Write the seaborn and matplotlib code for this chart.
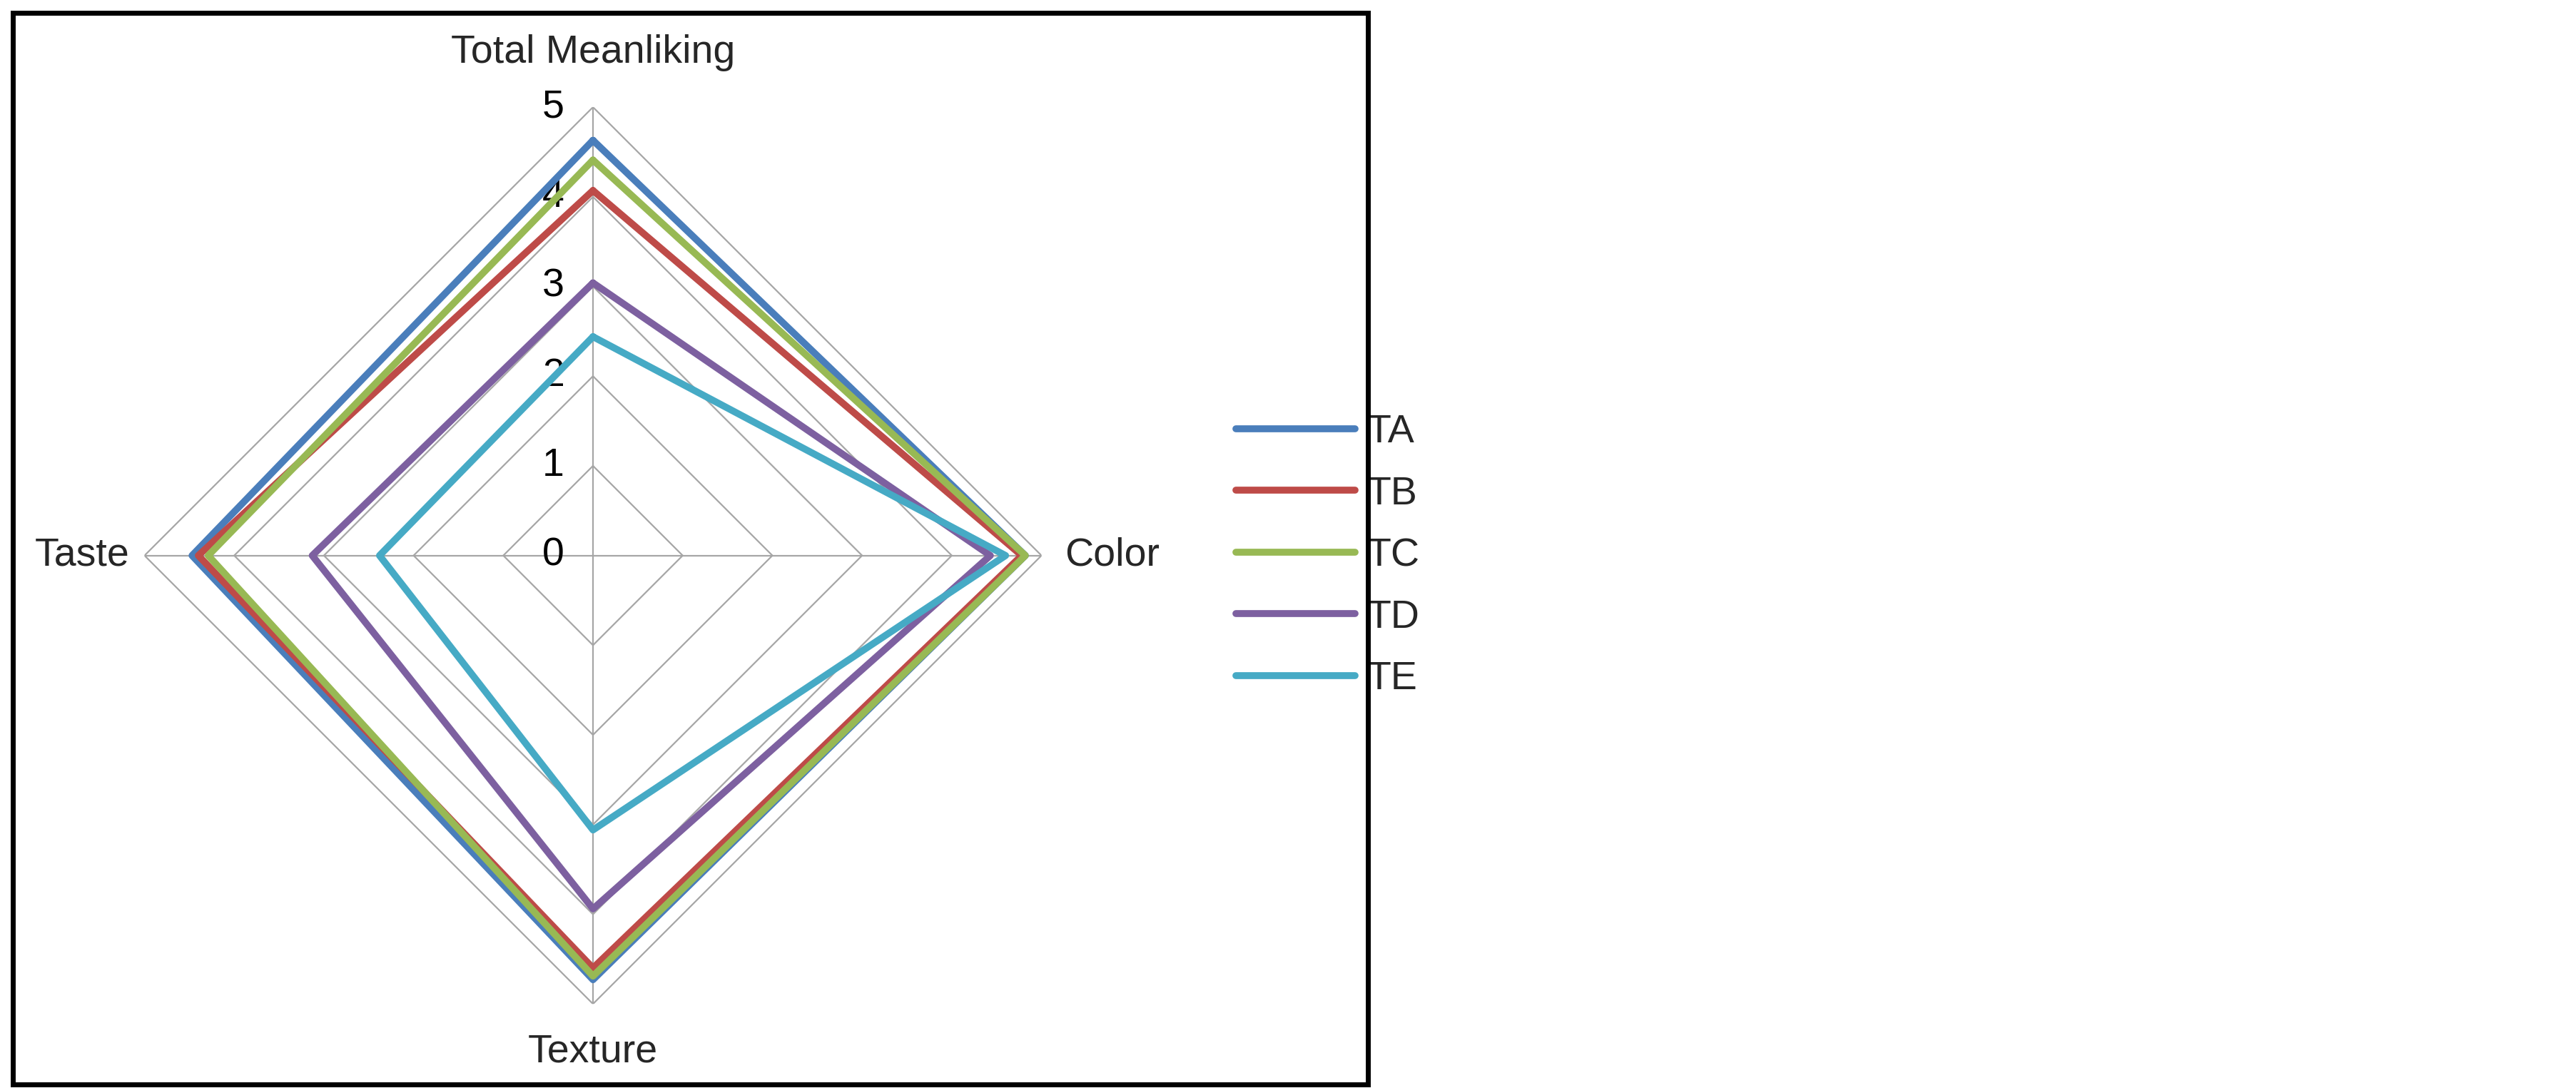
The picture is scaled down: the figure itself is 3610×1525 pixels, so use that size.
import numpy as np
import pandas as pd
import matplotlib
matplotlib.use("Agg")
import matplotlib.pyplot as plt
import seaborn as sns
from matplotlib.patches import Rectangle

sns.set_theme(style="white")
plt.rcParams['font.family'] = ['Liberation Sans', 'DejaVu Sans']

categories = ["Total Meanliking", "Color", "Texture", "Taste"]
series = ["TA", "TB", "TC", "TD", "TE"]
TA = [4.63, 4.82, 4.73, 4.47]
TB = [4.07, 4.78, 4.60, 4.40]
TC = [4.41, 4.82, 4.69, 4.29]
TD = [3.04, 4.43, 3.94, 3.13]
TE = [2.44, 4.60, 3.06, 2.38]
ticks = [0, 1, 2, 3, 4, 5]
colors = ["#4A7EBB", "#BE4B48", "#98B954", "#7D60A0", "#46AAC5"]

angles = np.linspace(0, 2 * np.pi, len(categories), endpoint=False)
rows = []
for name, vals in zip(series, [TA, TB, TC, TD, TE]):
    for i, k in enumerate(list(range(len(categories))) + [0]):
        rows.append({"series": name, "order": i, "theta": angles[k] if i < len(categories) else 2 * np.pi, "r": vals[k]})
df = pd.DataFrame(rows)

fig = plt.figure(figsize=(36.10, 15.25), dpi=100)
ax = fig.add_axes([0.0561, 0.077, 0.3482, 0.8248], projection="polar")
ax.set_theta_zero_location("N")
ax.set_theta_direction(-1)
ax.set_ylim(0, 5)
ax.grid(False)
ax.spines["polar"].set_visible(False)
ax.set_xticks([])
ax.set_yticks([])
ax.set_facecolor("white")

closed = np.append(angles, 2 * np.pi)
for t in ticks[1:]:
    ax.plot(closed, [t] * len(closed), color="#A6A6A6", lw=1.6, zorder=1)
for a in angles:
    ax.plot([a, a], [0, 5], color="#A6A6A6", lw=1.6, zorder=1)
for t in ticks:
    ax.annotate(str(t), xy=(0, t), xytext=(-40, 0), textcoords="offset points",
                ha="center", va="center", fontsize=40, color="black")

sns.lineplot(data=df, x="theta", y="r", hue="series", palette=colors, sort=False,
             estimator=None, units="series", linewidth=7, ax=ax, legend=True, zorder=3)
ax.set_xlabel("")
ax.set_ylabel("")

h, l = ax.get_legend_handles_labels()
ax.legend(h, l, loc="center left", bbox_to_anchor=(0.466, 0.489), bbox_transform=fig.transFigure,
          frameon=False, fontsize=40, handlelength=3.0, handletextpad=0.3, labelspacing=0.62)

fig.text(361 / 1568, 1 - 32 / 662, "Total Meanliking", ha="center", va="center", fontsize=40)
fig.text(648 / 1568, 1 - 338 / 662, "Color", ha="left", va="center", fontsize=40)
fig.text(361 / 1568, 1 - 640 / 662, "Texture", ha="center", va="center", fontsize=40)
fig.text(79 / 1568, 1 - 338 / 662, "Taste", ha="right", va="center", fontsize=40)

fig.patches.append(Rectangle((0.0051, 0.003), 0.526, 0.985, transform=fig.transFigure,
                             fill=False, edgecolor="black", linewidth=5))
fig.savefig("out.png", dpi=100, facecolor="white")
